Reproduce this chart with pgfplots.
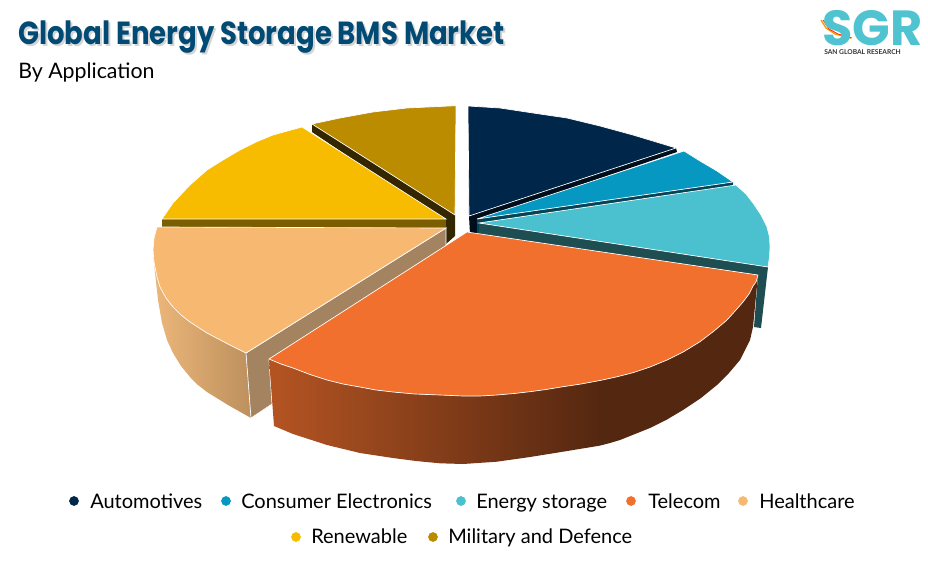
\documentclass[border=0pt]{standalone}
\usepackage{fontspec}
\usepackage{pgfplots}
\pgfplotsset{compat=1.18}
\setmainfont{Lato}
\newfontfamily\titlefont[FakeStretch=0.86]{Poppins}
\newfontfamily\logofont{Poppins}
\definecolor{auto}{HTML}{00264A}
\definecolor{consumer}{HTML}{0698C1}
\definecolor{energy}{HTML}{4BC0CE}
\definecolor{telecom}{HTML}{F1702E}
\definecolor{health}{HTML}{F7B871}
\definecolor{renew}{HTML}{F7BC00}
\definecolor{military}{HTML}{BB8B00}
\definecolor{titleblue}{HTML}{004A74}
\definecolor{logoteal}{HTML}{4FC3D0}
\begin{document}
\begin{tikzpicture}
\begin{axis}[
    at={(0,0)},anchor=south west,
    scale only axis,width=696pt,height=426pt,
    xmin=0,xmax=928,ymin=0,ymax=568,y dir=reverse,
    hide axis,clip=false,
    top/.style={fill=#1,draw=white,line width=0.5pt,line join=miter},
    side/.style={fill=#1,draw=none},
    dot/.style={only marks,mark=*,mark size=3.4pt,mark options={fill=#1,draw=#1}},
    ]
    % dark strips behind the slices
    \addplot[side={black!60!military!70!black}] coordinates {(312,124)(455,215)(455,236)(446,244)(446,222)(312,132)} -- cycle;
    \addplot[side={black!50!renew}] coordinates {(162,219)(446,219)(446,228)(162,228)} -- cycle;
    \addplot[side={black!65!auto}] coordinates {(469,216)(676,148)(677,152)(478,220)(478,234)(470,234)} -- cycle;
    \addplot[side={black!55!consumer}] coordinates {(477,219)(733,182)(733,186)(479,223)(479,234)(477,234)} -- cycle;
    \addplot[side={black!60!energy}] coordinates {(479,223)(768,267)(761,328)(754,327)(758,275)(479,234)} -- cycle;
    % healthcare wall and cut face
    \addplot[left color=health!95!black!90,right color=health!75!black!95,draw=none] coordinates {
        (153,250)(154,262)(157,277)(160,287)(166,298)(173,307)(181,315)(190,322)(207,333)(226,343)(246,353)
        (251,418)(228,405)(207,392)(198,385)(190,377)(181,366)(173,353)(167,340)(162,323)(158,300)(155,273)} -- cycle;
    \addplot[fill=health!60!black!85,draw=white,line width=0.5pt] coordinates {(246,353)(446,228)(446,246)(269,360)(272,404)(251,418)} -- cycle;
    % telecom wall
    \addplot[left color=telecom!75!black,right color=telecom!35!black,draw=none] coordinates {
        (269,359)(281,364)(293,368)(310,374.5)(327,380)(343,384)(360,387)(376,390)(393,392)(415,394)(440,395)(463,396)(480,396)(497,395)(514,393.5)(530,391.7)(546,389.5)(563,386.7)(581,384)(600,380.5)
        (600,445.6)(563,451.7)(530,457)(497,461.7)(463,464)(440,463.3)(416,461)(393,458)(360,453)(327,445)(293,434)(274,426)} -- cycle;
    \addplot[side={telecom!35!black}] coordinates {
        (600,380.5)(616,377)(633,372.7)(650,367)(667,360)(684,351.5)(700,341.7)(714,331)(727,320)(736,310)(743,302)(749,294)(753,286)(756,282)(758,275)
        (753,327)(750,340)(740,360)(729,373)(717,385)(701,398)(683,410)(667,419.5)(650,428)(620,440)(610,443)(600,445.6)} -- cycle;
    % top faces
    \addplot[top=auto] coordinates {(468,106)(500,108)(533,113)(567,118)(600,126)(633,135)(676,148)(469,216)} -- cycle;
    \addplot[top=consumer] coordinates {(684,151)(700,161)(717,171)(733,182)(477,219)} -- cycle;
    \addplot[top=energy] coordinates {(736,185)(746,194)(753,203)(761,215)(767,227)(769.5,237)(770,247)(769.5,257)(768,267)(479,223)} -- cycle;
    \addplot[top=telecom] coordinates {
        (467,232)(758,275)(756,282)(753,286)(749,294)(743,302)(736,310)(727,320)(714,331)(700,341.7)(684,351.5)(667,360)(650,367)(633,372.7)(616,377)(600,380.5)(581,384)(563,386.7)(546,389.5)(530,391.7)(514,393.5)(497,395)(480,396)(463,396)(440,395)(415,394)(393,392)(376,390)(360,387)(343,384)(327,380)(310,374.5)(293,368)(281,364)(269,359)} -- cycle;
    \addplot[top=health] coordinates {(446,228)(157,227)(154,238)(153,250)(154,262)(157,277)(160,287)(166,298)(173,307)(181,315)(190,322)(207,333)(226,343)(246,353)} -- cycle;
    \addplot[top=renew] coordinates {(446,219)(162,219)(173,203)(190,185)(207,170)(223,160)(240,150)(256,142)(273,135)(302,127)} -- cycle;
    \addplot[top=military] coordinates {(455,215)(312,124)(340,118)(373,112)(407,108)(456,105.7)} -- cycle;
    % legend dots
    \addplot[dot=auto] coordinates {(74,501)};
    \addplot[dot=consumer] coordinates {(226,501)};
    \addplot[dot=energy] coordinates {(461,501)};
    \addplot[dot=telecom] coordinates {(631,501)};
    \addplot[dot=health] coordinates {(743,501)};
    \addplot[dot=renew] coordinates {(296,537)};
    \addplot[dot=military] coordinates {(433,537)};
    % logo swoosh
    \addplot[draw={orange!80!yellow},line width=1pt] coordinates {(821,20)(826,28)(835,34)(851,38)};
    \addplot[draw=red!70!orange,line width=0.6pt] coordinates {(823,20)(829,29)(838,34)(852,38)};
    % texts
    \node[anchor=base west,inner sep=0pt,text=gray!55,opacity=0.6,font=\titlefont\bfseries\fontsize{24}{24}\selectfont] at (axis cs:20,46) {Global Energy Storage BMS Market};
    \node[anchor=base west,inner sep=0pt,text=titleblue,font=\titlefont\bfseries\fontsize{24}{24}\selectfont] at (axis cs:18,44) {Global Energy Storage BMS Market};
    \node[anchor=base west,inner sep=0pt,font=\fontsize{16}{16}\selectfont] at (axis cs:18,78) {By Application};
    \node[anchor=base west,inner sep=0pt,text=logoteal,font=\logofont\bfseries\fontsize{37}{37}\selectfont] at (axis cs:822,45) {SGR};
    \node[anchor=base west,inner sep=0pt,text=black!80,font=\bfseries\fontsize{5}{5}\selectfont] at (axis cs:824,54) {SAN GLOBAL RESEARCH};
    \node[anchor=base west,inner sep=0pt,font=\fontsize{15}{15}\selectfont] at (axis cs:90,508) {Automotives};
    \node[anchor=base west,inner sep=0pt,font=\fontsize{15}{15}\selectfont] at (axis cs:241,508) {Consumer Electronics};
    \node[anchor=base west,inner sep=0pt,font=\fontsize{15}{15}\selectfont] at (axis cs:476,508) {Energy storage};
    \node[anchor=base west,inner sep=0pt,font=\fontsize{15}{15}\selectfont] at (axis cs:648,508) {Telecom};
    \node[anchor=base west,inner sep=0pt,font=\fontsize{15}{15}\selectfont] at (axis cs:759,508) {Healthcare};
    \node[anchor=base west,inner sep=0pt,font=\fontsize{15}{15}\selectfont] at (axis cs:311,543) {Renewable};
    \node[anchor=base west,inner sep=0pt,font=\fontsize{15}{15}\selectfont] at (axis cs:448,543) {Military and Defence};
\end{axis}
\useasboundingbox (0,0) rectangle (696pt,426pt);
\end{tikzpicture}
\end{document}
